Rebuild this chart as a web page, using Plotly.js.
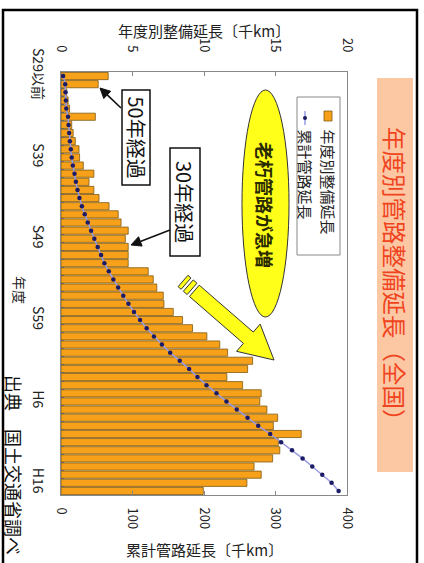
<!DOCTYPE html>
<html><head><meta charset="utf-8">
<script src="https://cdn.plot.ly/plotly-3.0.1.min.js"></script>
<style>html,body{margin:0;padding:0;background:#fff;} #chart{width:424px;height:563px;}</style>
</head><body><div id="chart"></div>
<script>
// ---- data ----
const categories = ['S29以前',
 'S30','S31','S32','S33','S34','S35','S36','S37','S38','S39',
 'S40','S41','S42','S43','S44','S45','S46','S47','S48','S49',
 'S50','S51','S52','S53','S54','S55','S56','S57','S58','S59',
 'S60','S61','S62','S63',
 'H1','H2','H3','H4','H5','H6','H7','H8','H9','H10',
 'H11','H12','H13','H14','H15','H16','H17'];
// 年度別整備延長 (千km)
const annualLength = [3.3,2.6,0.4,0.5,0.6,2.4,0.75,0.85,1.0,1.26,
 1.3,1.56,2.3,1.96,2.3,2.66,3.36,4.0,4.2,4.7,
 4.5,4.7,4.7,4.7,6.1,6.45,6.7,7.15,7.2,7.85,
 8.5,9.2,10.2,11.1,11.65,13.4,13.05,11.6,12.7,14.0,
 13.9,14.4,15.15,14.85,16.8,15.2,15.3,14.8,13.5,14.0,
 13.0,9.95];
// 累計管路延長 (千km)
const cumulativeLength = [3.0,5.9,6.3,6.8,7.4,9.8,10.6,11.4,12.4,13.7,
 15.0,16.6,18.9,20.8,23.1,25.8,29.2,33.2,37.4,42.1,
 46.6,51.3,56.0,60.7,66.8,73.2,79.9,87.1,94.3,102.1,
 110.6,119.8,130.0,141.1,152.7,166.1,179.2,190.8,203.5,217.5,
 231.4,245.8,260.9,275.8,292.6,307.8,323.1,337.9,351.4,365.4,
 378.4,388.3];
const tickCategories = ['S29以前','S39','S49','S59','H6','H16'];
const seriesNames = ['年度別整備延長','累計管路延長'];

// ---- layout helpers ----
const FONT = '"Noto Sans CJK JP", "Noto Sans", sans-serif';
const L=61, R=347, T=72, B=495;
const px = x => (x-L)/(R-L);
const py = y => (B-y)/(B-T);
const pathOf = pts => 'M ' + pts.map(p => px(p[0]).toFixed(5)+','+py(p[1]).toFixed(5)).join(' L ') + ' Z';

const shapes = [];
const annotations = [];

function rect(x0,y0,x1,y1,fill,lineColor,lw){
  shapes.push({type:'rect',xref:'paper',yref:'paper',x0:px(x0),x1:px(x1),y0:py(y1),y1:py(y0),
    fillcolor:fill,line:{color:lineColor||'rgba(0,0,0,0)',width:lw||0},layer:'above'});
}
function text(t,x,y,size,color,opts){
  annotations.push(Object.assign({xref:'paper',yref:'paper',x:px(x),y:py(y),text:t,showarrow:false,
    textangle:90,xanchor:'center',yanchor:'middle',font:{family:FONT,size:size,color:color}},opts||{}));
}
function blackArrow(x0,y0,x1,y1){
  const dx=x1-x0, dy=y1-y0, len=Math.hypot(dx,dy), ux=dx/len, uy=dy/len, nx=-uy, ny=ux;
  const hl=10, hw=5;
  const bx=x1-ux*hl, by=y1-uy*hl;
  shapes.push({type:'line',xref:'paper',yref:'paper',x0:px(x0),y0:py(y0),x1:px(bx),y1:py(by),line:{color:'#111',width:1.6},layer:'above'});
  shapes.push({type:'path',xref:'paper',yref:'paper',path:pathOf([[x1,y1],[bx+nx*hw,by+ny*hw],[bx-nx*hw,by-ny*hw]]),
    fillcolor:'#111',line:{color:'#111',width:1},layer:'above'});
}
function blockArrow(ax,ay,tx,ty){
  const dx=tx-ax, dy=ty-ay, len=Math.hypot(dx,dy), ux=dx/len, uy=dy/len, nx=-uy, ny=ux;
  const P=(s,w)=>[ax+ux*s+nx*w, ay+uy*s+ny*w];
  const sw=7.5, hw=18, hl=34;
  const st = {fillcolor:'#FFFF1A',line:{color:'#333',width:1}};
  const add = pts => shapes.push(Object.assign({type:'path',xref:'paper',yref:'paper',path:pathOf(pts),layer:'above'},st));
  add([P(0,-sw),P(4,-sw),P(4,sw),P(0,sw)]);
  add([P(7,-sw),P(12,-sw),P(12,sw),P(7,sw)]);
  add([P(15,-sw),P(len-hl,-sw),P(len-hl,-hw),P(len,0),P(len-hl,hw),P(len-hl,sw),P(15,sw)]);
}

// outer frame
shapes.push({type:'rect',xref:'paper',yref:'paper',x0:px(3),x1:px(417),y0:py(580),y1:py(10),
  fillcolor:'rgba(0,0,0,0)',line:{color:'#000',width:2.5},layer:'above'});
// title box
rect(377,78,413,472,'#FCC8A4');
text('年度別管路整備延長（全国）',395,125,23.5,'#F0441E',{yanchor:'top'});
// legend
rect(297,97,340,255,'#fff','#888',1);
rect(324,111,332,121,'#F7A11A','#7F5A12',0.8);
shapes.push({type:'line',xref:'paper',yref:'paper',x0:px(305),x1:px(305),y0:py(111),y1:py(125),line:{color:'#9A9AE6',width:1.5},layer:'above'});
shapes.push({type:'circle',xref:'paper',yref:'paper',x0:px(303),x1:px(307),y0:py(120),y1:py(116),fillcolor:'#1B1B66',line:{width:0},layer:'above'});
text(seriesNames[0],328,127,15,'#222',{yanchor:'top'});
text(seriesNames[1],305.5,127,15,'#222',{yanchor:'top'});
// yellow ellipse
shapes.push({type:'circle',xref:'paper',yref:'paper',x0:px(242),x1:px(289),y0:py(317),y1:py(90),
  fillcolor:'#FFFF1A',line:{color:'#333',width:1},layer:'above'});
text('<b>老朽管路が急増</b>',265,205,18,'#2a2a00');
// big arrow
blockArrow(183,281,274,360);
// 50年 / 30年 boxes
rect(122,90,150,185,'#fff','#111',1.5);
text('50年経過',136,137.5,20,'#111');
blackArrow(121,108,100,88);
rect(170,148,200,256,'#fff','#111',1.5);
text('30年経過',185,202,20,'#111');
blackArrow(170,230,131,245);
// axis titles & labels
text('年度別整備延長〔千km〕',204,31,15,'#222',{textangle:0});
text('累計管路延長〔千km〕',204,549,15,'#222',{textangle:0});
text('年度',20,290,14,'#222');
text('出典　国土交通省調べ',14,373,18,'#111',{yanchor:'top'});

const traces = [
  {type:'bar',orientation:'h',name:seriesNames[0],x:annualLength,y:categories,xaxis:'x',yaxis:'y',
   marker:{color:'#F7A11A',line:{color:'#7F5A12',width:0.8}}},
  {type:'scatter',mode:'lines+markers',name:seriesNames[1],x:cumulativeLength,y:categories,xaxis:'x2',yaxis:'y',
   line:{color:'#9A9AE6',width:1.5},marker:{color:'#1B1B66',size:4.5}}
];

const axisCommon = {tickangle:90,ticks:'inside',ticklen:4,tickcolor:'#888',showline:true,linecolor:'#888',
  showgrid:false,zeroline:false,tickfont:{size:13,color:'#222'}};
const yTickText = categories.map(c => tickCategories.includes(c) ? c : '');
const layout = {
  width:424,height:563,
  margin:{l:L,r:424-R,t:T,b:563-B,pad:0},
  paper_bgcolor:'#fff',plot_bgcolor:'#fff',
  showlegend:false,
  font:{family:FONT,color:'#222',size:13},
  bargap:0.12,
  xaxis:Object.assign({},axisCommon,{side:'top',range:[0,20],dtick:5,tick0:0,mirror:true,ticklabelstandoff:14}),
  xaxis2:Object.assign({},axisCommon,{overlaying:'x',side:'bottom',range:[0,400],dtick:100,tick0:0,ticklabelstandoff:9}),
  yaxis:{type:'category',categoryorder:'array',categoryarray:categories,range:[51.5,-0.5],
    tickmode:'array',tickvals:categories,ticktext:yTickText,tickangle:90,ticks:'inside',ticklen:3,
    tickcolor:'#666',tickson:'boundaries',
    showline:true,linecolor:'#888',mirror:true,showgrid:false,zeroline:false,ticklabelstandoff:10,
    tickfont:{size:14,color:'#222'}},
  shapes:shapes,
  annotations:annotations
};
Plotly.newPlot('chart',traces,layout,{displayModeBar:false,staticPlot:true});
</script>
</body></html>
